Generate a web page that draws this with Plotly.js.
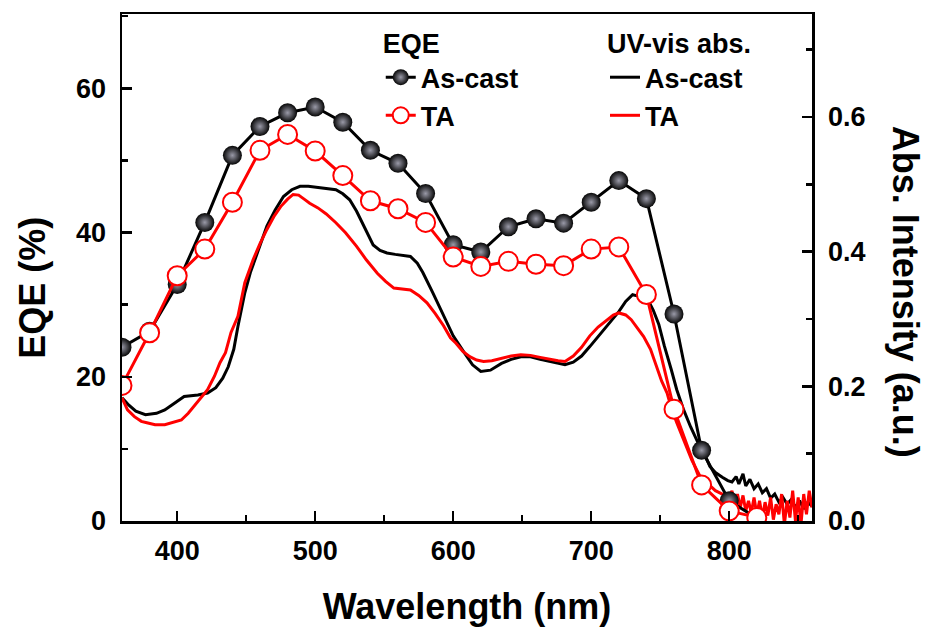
<!DOCTYPE html>
<html>
<head>
<meta charset="utf-8">
<script src="https://cdn.plot.ly/plotly-3.0.1.min.js"></script>
<style>html,body{margin:0;padding:0;background:#fff;}#chart{width:928px;height:627px;}</style>
</head>
<body>
<div id="chart"></div>
<script>
// EQE data (wavelength in nm, EQE in %)
const eqeWavelength = [360,380,400,420,440,460,480,500,520,540,560,580,600,620,640,660,680,700,720,740,760,780,800,820];
const eqeAsCast = [24.1,26.3,32.8,41.4,50.7,54.7,56.6,57.4,55.3,51.4,49.6,45.4,38.3,37.3,40.8,41.9,41.3,44.2,47.2,44.7,28.7,9.8,2.8,0.4];
const eqeTA = [18.8,26.1,34.0,37.7,44.2,51.4,53.6,51.3,47.9,44.4,43.3,41.4,36.6,35.3,36.0,35.6,35.4,37.7,38.0,31.4,15.5,5.0,1.4,0.5];

// UV-vis absorption, As-cast
const absWlAsCast = [360,365,370,377,385,391,398,405,415,422,428,433,437,441,444,449,453,459,465,471,477,483,489,495,502,509,515,520,525,530,536,542,547,552,558,563,569,574,578,585,592,600,608,614,620,627,635,642,649,656,663,670,676,681,687,693,699,705,711,716,720,725,730,734,738,741,745,749,753,758,762,767,772,777,782,786,790,795,799,802,805,807,810,812,815,818,821,824,827,830,833,836,839,842,845,848,851,854,857,860];
const absAsCast = [0.183,0.172,0.163,0.158,0.160,0.165,0.175,0.185,0.187,0.190,0.198,0.212,0.229,0.255,0.289,0.339,0.369,0.405,0.438,0.462,0.482,0.492,0.497,0.497,0.495,0.494,0.492,0.486,0.477,0.460,0.435,0.410,0.402,0.398,0.396,0.395,0.393,0.383,0.369,0.340,0.309,0.275,0.250,0.232,0.222,0.224,0.234,0.240,0.244,0.244,0.240,0.237,0.234,0.232,0.236,0.245,0.259,0.274,0.290,0.302,0.311,0.326,0.336,0.334,0.333,0.329,0.313,0.292,0.260,0.225,0.195,0.165,0.140,0.118,0.100,0.081,0.072,0.065,0.060,0.058,0.066,0.055,0.070,0.052,0.062,0.048,0.055,0.042,0.048,0.034,0.040,0.028,0.035,0.025,0.032,0.020,0.030,0.018,0.028,0.022];

// UV-vis absorption, TA
const absWlTA = [360,364,369,374,378,384,391,397,403,408,412,417,422,427,431,435,439,444,449,455,460,465,470,475,480,484,488,492,496,502,508,515,522,530,537,545,551,557,563,569,575,581,587,593,598,602,607,612,617,622,628,635,642,649,656,663,670,676,681,687,693,699,705,711,716,720,725,729,734,738,743,747,751,755,758,762,766,769,773,779,785,790,795,800,802,804,806,808,810,812,814,816,818,820,822,824,826,828,830,832,834,836,838,840,842,844,846,848,850,852,854,856,858,860];
const absTA = [0.183,0.165,0.155,0.148,0.146,0.143,0.143,0.147,0.150,0.160,0.170,0.182,0.195,0.215,0.235,0.250,0.280,0.304,0.354,0.388,0.412,0.433,0.452,0.467,0.478,0.485,0.484,0.478,0.472,0.465,0.456,0.443,0.428,0.408,0.388,0.368,0.356,0.346,0.344,0.343,0.335,0.324,0.308,0.290,0.272,0.264,0.252,0.244,0.239,0.237,0.238,0.242,0.245,0.247,0.246,0.243,0.240,0.238,0.237,0.245,0.258,0.275,0.288,0.298,0.306,0.309,0.306,0.299,0.285,0.274,0.255,0.232,0.208,0.190,0.168,0.146,0.125,0.110,0.090,0.066,0.055,0.045,0.040,0.035,0.045,0.025,0.040,0.020,0.038,0.015,0.030,0.012,0.035,0.010,0.030,0.005,0.028,0.008,0.035,0.002,0.025,0.010,0.040,-0.005,0.030,0.005,0.045,0.000,0.035,-0.005,0.040,0.010,0.045,0.020];

const FONT = "'Liberation Sans', Arial, sans-serif";

const traces = [
  {x: absWlAsCast, y: absAsCast, type: 'scatter', mode: 'lines', name: 'As-cast',
   line: {color: '#000000', width: 3}, legend: 'legend2', xaxis: 'x', yaxis: 'y'},
  {x: absWlTA, y: absTA, type: 'scatter', mode: 'lines', name: 'TA',
   line: {color: '#ff0000', width: 3}, legend: 'legend2', xaxis: 'x', yaxis: 'y'},
  {x: eqeWavelength, y: eqeAsCast, type: 'scatter', mode: 'lines+markers', name: 'As-cast',
   line: {color: '#000000', width: 3},
   marker: {symbol: 'circle', size: 19, color: '#050505', line: {width: 0},
            gradient: {type: 'radial', color: '#9a9aa8'}},
   legend: 'legend', xaxis: 'x', yaxis: 'y2'},
  {x: eqeWavelength, y: eqeTA, type: 'scatter', mode: 'lines+markers', name: 'TA',
   line: {color: '#ff0000', width: 3},
   marker: {symbol: 'circle', size: 19, color: '#ffffff', line: {color: '#ff0000', width: 2}},
   legend: 'legend', xaxis: 'x', yaxis: 'y2'}
];

const tickFont = {family: FONT, size: 27, color: '#000', weight: 700};
const titleFont = {family: FONT, size: 36, color: '#000', weight: 700};
const legFont = {family: FONT, size: 27, color: '#000', weight: 700};

const layout = {
  width: 928, height: 627,
  paper_bgcolor: '#ffffff', plot_bgcolor: '#ffffff',
  margin: {l: 122, r: 116, t: 14, b: 106, pad: 0},
  showlegend: true,
  xaxis: {
    range: [360, 860], dtick: 100, tick0: 0,
    ticks: 'inside', ticklen: 10, tickwidth: 2.5, tickcolor: '#000',
    minor: {dtick: 50, tick0: 0, ticks: 'inside', ticklen: 6, tickwidth: 2.5, tickcolor: '#000'},
    showline: true, linewidth: 2.5, linecolor: '#000', mirror: true,
    showgrid: false, zeroline: false,
    tickfont: tickFont, ticklabelstandoff: 4,
    title: {text: 'Wavelength (nm)', font: titleFont, standoff: 30},
    automargin: false
  },
  yaxis: {
    range: [0, 0.753], dtick: 0.2, tick0: 0, tickformat: '.1f', side: 'right',
    ticks: 'inside', ticklen: 10, tickwidth: 2.5, tickcolor: '#000',
    minor: {dtick: 0.1, tick0: 0, ticks: 'inside', ticklen: 6, tickwidth: 2.5, tickcolor: '#000'},
    showline: true, linewidth: 2.5, linecolor: '#000',
    showgrid: false, zeroline: false,
    tickfont: tickFont, ticklabelstandoff: 8,
    automargin: false
  },
  yaxis2: {
    range: [0, 70.3], dtick: 20, tick0: 0, side: 'left', overlaying: 'y',
    ticks: 'inside', ticklen: 10, tickwidth: 2.5, tickcolor: '#000',
    minor: {dtick: 10, tick0: 0, ticks: 'inside', ticklen: 6, tickwidth: 2.5, tickcolor: '#000'},
    showline: true, linewidth: 2.5, linecolor: '#000',
    showgrid: false, zeroline: false,
    tickfont: tickFont, ticklabelstandoff: 8,
    automargin: false
  },
  legend: {
    title: {text: 'EQE', font: legFont},
    x: 0.375, y: 0.992, xanchor: 'left', yanchor: 'top',
    bgcolor: 'rgba(0,0,0,0)', borderwidth: 0, font: legFont,
    tracegroupgap: 0, itemwidth: 30
  },
  legend2: {
    title: {text: 'UV-vis abs.', font: legFont},
    x: 0.70, y: 0.992, xanchor: 'left', yanchor: 'top',
    bgcolor: 'rgba(0,0,0,0)', borderwidth: 0, font: legFont,
    tracegroupgap: 0, itemwidth: 30
  },
  annotations: [
    {text: 'EQE (%)', textangle: -90, xref: 'paper', yref: 'paper',
     x: -0.129, y: 0.46, xanchor: 'center', yanchor: 'middle', showarrow: false, font: titleFont},
    {text: 'Abs. Intensity (a.u.)', textangle: 90, xref: 'paper', yref: 'paper',
     x: 1.135, y: 0.452, xanchor: 'center', yanchor: 'middle', showarrow: false, font: titleFont}
  ]
};

Plotly.newPlot('chart', traces, layout, {displayModeBar: false, staticPlot: true});
</script>
</body>
</html>
